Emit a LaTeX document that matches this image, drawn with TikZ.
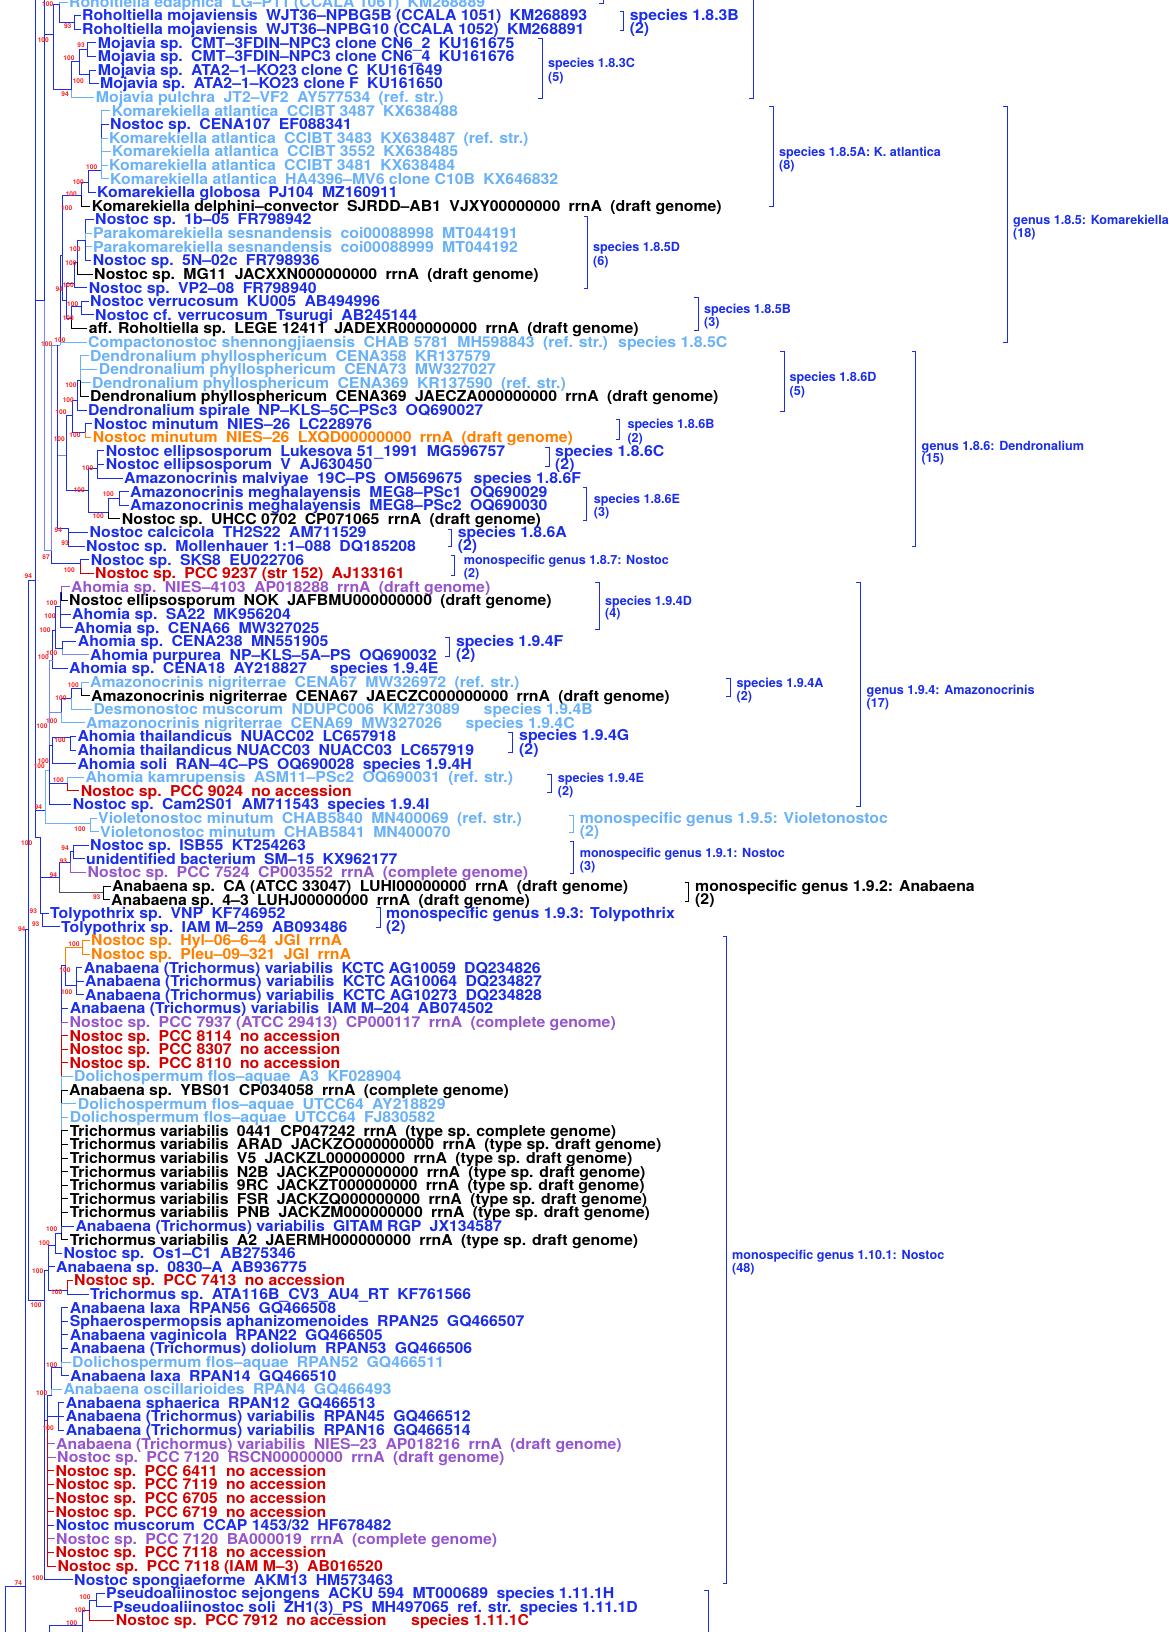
\documentclass[tikz,border=0pt]{standalone}
\usepackage{fontspec}
\setmainfont{TeX Gyre Heros}
\newfontfamily\mainfam{TeX Gyre Heros}[FakeStretch=1.055]
\definecolor{cb}{RGB}{25,45,235}
\definecolor{cmid}{RGB}{120,135,245}
\definecolor{cl}{RGB}{105,178,248}
\definecolor{ck}{RGB}{0,0,0}
\definecolor{cg}{RGB}{80,80,80}
\definecolor{co}{RGB}{255,128,0}
\definecolor{cr}{RGB}{212,0,0}
\definecolor{cp}{RGB}{150,85,205}
\definecolor{bsred}{RGB}{255,30,30}
\newcommand\mainfs{\mainfam\fontsize{15}{15}\selectfont\bfseries}
\newcommand\smallfs{\fontsize{12.6}{13}\selectfont\bfseries}
\newcommand\bsfs{\fontsize{6.6}{7}\selectfont\bfseries}
\newcommand\w{\hspace{0.556em}}
\newcommand\leaf[4]{\node[leaf,text=#3] (L#1) at ({#2-1.5},{2+(#1-1)*13.6}) {#4};}
\newcommand\extra[4]{\node[leaf,text=#3] (S#1) at ({#2-1.5},{2+(#1-1)*13.6}) {#4};}
\newcommand\clade[2]{\foreach \cN/\cK in {#2}{\draw[tr,\cK] (#1) -- (#1 |- \cN) -- (\cN);}}
\newcommand\brk[4][cb]{\draw[brk,#1] ({#2-4},#3) -- (#2,#3) -- (#2,#4) -- ({#2-4},#4);}
\begin{document}
\begin{tikzpicture}[x=1pt,y=-1pt,
  tr/.style={cb,line width=0.9pt,line join=miter},
  leaf/.style={anchor=west,inner xsep=1.5pt,inner ysep=0pt,text height=10.8pt,text depth=0pt,font=\mainfs},
  slab/.style={anchor=west,inner sep=0pt,text height=9.05pt,text depth=0pt,font=\smallfs,text=cb},
  blab/.style={anchor=west,inner sep=0pt,text height=10.8pt,text depth=0pt,font=\mainfs,text=cb},
  bs/.style={inner sep=0pt,text height=4.7pt,text depth=0pt,font=\bsfs,text=bsred},
  brk/.style={line width=0.9pt,cb}]
\useasboundingbox (0,0) rectangle (1169,1632);
\fill[white] (0,0) rectangle (1169,1632);
\clip (0,0) rectangle (1169,1632);

% ---------------- leaves ----------------
\leaf{1}{69}{cl}{Roholtiella edaphica\w LG–P11 (CCALA 1061)\w KM268889}
\leaf{2}{82}{cb}{Roholtiella mojaviensis\w WJT36–NPBG5B (CCALA 1051)\w KM268893}
\leaf{3}{82}{cb}{Roholtiella mojaviensis\w WJT36–NPBG10 (CCALA 1052)\w KM268891}
\leaf{4}{97.7}{cb}{Mojavia sp.\w CMT–3FDIN–NPC3 clone CN6\_2\w KU161675}
\leaf{5}{97.7}{cb}{Mojavia sp.\w CMT–3FDIN–NPC3 clone CN6\_4\w KU161676}
\leaf{6}{97.7}{cb}{Mojavia sp.\w ATA2–1–KO23 clone C\w KU161649}
\leaf{7}{100}{cb}{Mojavia sp.\w ATA2–1–KO23 clone F\w KU161650}
\leaf{8}{95.7}{cl}{Mojavia pulchra\w JT2–VF2\w AY577534\w (ref. str.)}
\leaf{9}{111.7}{cl}{Komarekiella atlantica\w CCIBT 3487\w KX638488}
\leaf{10}{110}{cb}{Nostoc sp.\w CENA107\w EF088341}
\leaf{11}{109}{cl}{Komarekiella atlantica\w CCIBT 3483\w KX638487\w (ref. str.)}
\leaf{12}{112}{cl}{Komarekiella atlantica\w CCIBT 3552\w KX638485}
\leaf{13}{109}{cl}{Komarekiella atlantica\w CCIBT 3481\w KX638484}
\leaf{14}{110}{cl}{Komarekiella atlantica\w HA4396–MV6 clone C10B\w KX646832}
\leaf{15}{97}{cb}{Komarekiella globosa\w PJ104\w MZ160911}
\leaf{16}{91.7}{ck}{Komarekiella delphini–convector\w SJRDD–AB1\w VJXY00000000\w rrnA\w (draft genome)}
\leaf{17}{95}{cb}{Nostoc sp.\w 1b–05\w FR798942}
\leaf{18}{93}{cl}{Parakomarekiella sesnandensis\w coi00088998\w MT044191}
\leaf{19}{93}{cl}{Parakomarekiella sesnandensis\w coi00088999\w MT044192}
\leaf{20}{92.7}{cb}{Nostoc sp.\w 5N–02c\w FR798936}
\leaf{21}{94}{ck}{Nostoc sp.\w MG11\w JACXXN000000000\w rrnA\w (draft genome)}
\leaf{22}{88.7}{cb}{Nostoc sp.\w VP2–08\w FR798940}
\leaf{23}{90}{cb}{Nostoc verrucosum\w KU005\w AB494996}
\leaf{24}{95}{cb}{Nostoc cf. verrucosum\w Tsurugi\w AB245144}
\leaf{25}{88.7}{ck}{aff. Roholtiella sp.\w LEGE 12411\w JADEXR000000000\w rrnA\w (draft genome)}
\leaf{26}{88}{cl}{Compactonostoc shennongjiaensis\w CHAB 5781\w MH598843\w (ref. str.)}
\extra{26}{618}{cl}{species 1.8.5C}
\leaf{27}{90}{cl}{Dendronalium phyllosphericum\w CENA358\w KR137579}
\leaf{28}{98.7}{cl}{Dendronalium phyllosphericum\w CENA73\w MW327027}
\leaf{29}{92}{cl}{Dendronalium phyllosphericum\w CENA369\w KR137590\w (ref. str.)}
\leaf{30}{90}{ck}{Dendronalium phyllosphericum\w CENA369\w JAECZA000000000\w rrnA\w (draft genome)}
\leaf{31}{88}{cb}{Dendronalium spirale\w NP–KLS–5C–PSc3\w OQ690027}
\leaf{32}{93.7}{cb}{Nostoc minutum\w NIES–26\w LC228976}
\leaf{33}{92.7}{co}{Nostoc minutum\w NIES–26\w LXQD00000000\w rrnA\w (draft genome)}
\leaf{34}{105.7}{cb}{Nostoc ellipsosporum\w Lukesova 51\_1991\w MG596757}
\leaf{35}{105.7}{cb}{Nostoc ellipsosporum\w V\w AJ630450}
\leaf{36}{124}{cb}{Amazonocrinis malviyae\w 19C–PS\w OM569675}
\extra{36}{473.5}{cb}{species 1.8.6F}
\leaf{37}{130}{cb}{Amazonocrinis meghalayensis\w MEG8–PSc1\w OQ690029}
\leaf{38}{130}{cb}{Amazonocrinis meghalayensis\w MEG8–PSc2\w OQ690030}
\leaf{39}{121.7}{ck}{Nostoc sp.\w UHCC 0702\w CP071065\w rrnA\w (draft genome)}
\leaf{40}{89.3}{cb}{Nostoc calcicola\w TH2S22\w AM711529}
\leaf{41}{86}{cb}{Nostoc sp.\w Mollenhauer 1:1–088\w DQ185208}
\leaf{42}{90.7}{cb}{Nostoc sp.\w SKS8\w EU022706}
\leaf{43}{95}{cr}{Nostoc sp.\w PCC 9237 (str 152)\w AJ133161}
\leaf{44}{71}{cp}{Ahomia sp.\w NIES–4103\w AP018288\w rrnA\w (draft genome)}
\leaf{45}{69}{ck}{Nostoc ellipsosporum\w NOK\w JAFBMU000000000\w (draft genome)}
\leaf{46}{72}{cb}{Ahomia sp.\w SA22\w MK956204}
\leaf{47}{74}{cb}{Ahomia sp.\w CENA66\w MW327025}
\leaf{48}{77.7}{cb}{Ahomia sp.\w CENA238\w MN551905}
\leaf{49}{90}{cb}{Ahomia purpurea\w NP–KLS–5A–PS\w OQ690032}
\leaf{50}{69}{cb}{Ahomia sp.\w CENA18\w AY218827}
\extra{50}{330}{cb}{species 1.9.4E}
\leaf{51}{90}{cl}{Amazonocrinis nigriterrae\w CENA67\w MW326972\w (ref. str.)}
\leaf{52}{91}{ck}{Amazonocrinis nigriterrae\w CENA67\w JAECZC000000000\w rrnA\w (draft genome)}
\leaf{53}{93.3}{cl}{Desmonostoc muscorum\w NDUPC006\w KM273089}
\extra{53}{483.5}{cl}{species 1.9.4B}
\leaf{54}{86}{cl}{Amazonocrinis nigriterrae\w CENA69\w MW327026}
\extra{54}{465.4}{cl}{species 1.9.4C}
\leaf{55}{77.3}{cb}{Ahomia thailandicus\w NUACC02\w LC657918}
\leaf{56}{77.3}{cb}{Ahomia thailandicus NUACC03\w NUACC03\w LC657919}
\leaf{57}{77.3}{cb}{Ahomia soli\w RAN–4C–PS\w OQ690028\w species 1.9.4H}
\leaf{58}{85.3}{cl}{Ahomia kamrupensis\w ASM11–PSc2\w OQ690031\w (ref. str.)}
\leaf{59}{80.7}{cr}{Nostoc sp.\w PCC 9024\w no accession}
\leaf{60}{72.7}{cb}{Nostoc sp.\w Cam2S01\w AM711543\w species 1.9.4I}
\leaf{61}{98}{cl}{Violetonostoc minutum\w CHAB5840\w MN400069\w (ref. str.)}
\leaf{62}{100}{cl}{Violetonostoc minutum\w CHAB5841\w MN400070}
\leaf{63}{90}{cb}{Nostoc sp.\w ISB55\w KT254263}
\leaf{64}{86}{cb}{unidentified bacterium\w SM–15\w KX962177}
\leaf{65}{87.3}{cp}{Nostoc sp.\w PCC 7524\w CP003552\w rrnA\w (complete genome)}
\leaf{66}{112}{ck}{Anabaena sp.\w CA (ATCC 33047)\w LUHI00000000\w rrnA\w (draft genome)}
\leaf{67}{111}{ck}{Anabaena sp.\w 4–3\w LUHJ00000000\w rrnA\w (draft genome)}
\leaf{68}{50}{cb}{Tolypothrix sp.\w VNP\w KF746952}
\leaf{69}{61}{cb}{Tolypothrix sp.\w IAM M–259\w AB093486}
\leaf{70}{91}{co}{Nostoc sp.\w Hyl–06–6–4\w JGI\w rrnA}
\leaf{71}{91}{co}{Nostoc sp.\w Pleu–09–321\w JGI\w rrnA}
\leaf{72}{83.7}{cb}{Anabaena (Trichormus) variabilis\w KCTC AG10059\w DQ234826}
\leaf{73}{85}{cb}{Anabaena (Trichormus) variabilis\w KCTC AG10064\w DQ234827}
\leaf{74}{85}{cb}{Anabaena (Trichormus) variabilis\w KCTC AG10273\w DQ234828}
\leaf{75}{69.7}{cb}{Anabaena (Trichormus) variabilis\w IAM M–204\w AB074502}
\leaf{76}{69.3}{cp}{Nostoc sp.\w PCC 7937 (ATCC 29413)\w CP000117\w rrnA\w (complete genome)}
\leaf{77}{69.3}{cr}{Nostoc sp.\w PCC 8114\w no accession}
\leaf{78}{69.3}{cr}{Nostoc sp.\w PCC 8307\w no accession}
\leaf{79}{69.3}{cr}{Nostoc sp.\w PCC 8110\w no accession}
\leaf{80}{74}{cl}{Dolichospermum flos–aquae\w A3\w KF028904}
\leaf{81}{69}{ck}{Anabaena sp.\w YBS01\w CP034058\w rrnA\w (complete genome)}
\leaf{82}{77.7}{cl}{Dolichospermum flos–aquae\w UTCC64\w AY218829}
\leaf{83}{69.7}{cl}{Dolichospermum flos–aquae\w UTCC64\w FJ830582}
\leaf{84}{69.7}{ck}{Trichormus variabilis\w 0441\w CP047242\w rrnA\w (type sp. complete genome)}
\leaf{85}{69.7}{ck}{Trichormus variabilis\w ARAD\w JACKZO000000000\w rrnA\w (type sp. draft genome)}
\leaf{86}{69.7}{ck}{Trichormus variabilis\w V5\w JACKZL000000000\w rrnA\w (type sp. draft genome)}
\leaf{87}{69.7}{ck}{Trichormus variabilis\w N2B\w JACKZP000000000\w rrnA\w (type sp. draft genome)}
\leaf{88}{69.7}{ck}{Trichormus variabilis\w 9RC\w JACKZT000000000\w rrnA\w (type sp. draft genome)}
\leaf{89}{69.7}{ck}{Trichormus variabilis\w FSR\w JACKZQ000000000\w rrnA\w (type sp. draft genome)}
\leaf{90}{69.7}{ck}{Trichormus variabilis\w PNB\w JACKZM000000000\w rrnA\w (type sp. draft genome)}
\leaf{91}{75.3}{cb}{Anabaena (Trichormus) variabilis\w GITAM RGP\w JX134587}
\leaf{92}{69.7}{ck}{Trichormus variabilis\w A2\w JAERMH000000000\w rrnA\w (type sp. draft genome)}
\leaf{93}{63.3}{cb}{Nostoc sp.\w Os1–C1\w AB275346}
\leaf{94}{56}{cb}{Anabaena sp.\w 0830–A\w AB936775}
\leaf{95}{74}{cr}{Nostoc sp.\w PCC 7413\w no accession}
\leaf{96}{90}{cb}{Trichormus sp.\w ATA116B\_CV3\_AU4\_RT\w KF761566}
\leaf{97}{69.7}{cb}{Anabaena laxa\w RPAN56\w GQ466508}
\leaf{98}{69.7}{cb}{Sphaerospermopsis aphanizomenoides\w RPAN25\w GQ466507}
\leaf{99}{69.7}{cb}{Anabaena vaginicola\w RPAN22\w GQ466505}
\leaf{100}{69.7}{cb}{Anabaena (Trichormus) doliolum\w RPAN53\w GQ466506}
\leaf{101}{72}{cl}{Dolichospermum flos–aquae\w RPAN52\w GQ466511}
\leaf{102}{70}{cb}{Anabaena laxa\w RPAN14\w GQ466510}
\leaf{103}{63.3}{cl}{Anabaena oscillarioides\w RPAN4\w GQ466493}
\leaf{104}{65.7}{cb}{Anabaena sphaerica\w RPAN12\w GQ466513}
\leaf{105}{65.7}{cb}{Anabaena (Trichormus) variabilis\w RPAN45\w GQ466512}
\leaf{106}{65.7}{cb}{Anabaena (Trichormus) variabilis\w RPAN16\w GQ466514}
\leaf{107}{56}{cp}{Anabaena (Trichormus) variabilis\w NIES–23\w AP018216\w rrnA\w (draft genome)}
\leaf{108}{57}{cp}{Nostoc sp.\w PCC 7120\w RSCN00000000\w rrnA\w (draft genome)}
\leaf{109}{55.3}{cr}{Nostoc sp.\w PCC 6411\w no accession}
\leaf{110}{55.3}{cr}{Nostoc sp.\w PCC 7119\w no accession}
\leaf{111}{55.3}{cr}{Nostoc sp.\w PCC 6705\w no accession}
\leaf{112}{55.3}{cr}{Nostoc sp.\w PCC 6719\w no accession}
\leaf{113}{55.7}{cb}{Nostoc muscorum\w CCAP 1453/32\w HF678482}
\leaf{114}{56}{cp}{Nostoc sp.\w PCC 7120\w BA000019\w rrnA\w (complete genome)}
\leaf{115}{55.3}{cr}{Nostoc sp.\w PCC 7118\w no accession}
\leaf{116}{57.3}{cr}{Nostoc sp.\w PCC 7118 (IAM M–3)\w AB016520}
\leaf{117}{74}{cb}{Nostoc spongiaeforme\w AKM13\w HM573463}
\leaf{118}{106}{cb}{Pseudoaliinostoc sejongens\w ACKU 594\w MT000689\w species 1.11.1H}
\leaf{119}{113}{cb}{Pseudoaliinostoc soli\w ZH1(3)\_PS\w MH497065\w ref. str.\w species 1.11.1D}
\leaf{120}{115.6}{cr}{Nostoc sp.\w PCC 7912\w no accession}
\extra{120}{411}{cr}{species 1.11.1C}

% ---------------- internal nodes ----------------
\coordinate (top1) at (44.5,-30); \coordinate (top2) at (35,-30);
\coordinate (bot1) at (25,1700); \coordinate (bot2) at (5,1700);
\coordinate (bot3) at (82,1700); \coordinate (bot4) at (49,1700);
% genus 1.8.3
\coordinate (a1) at (74,22.4);   \clade{a1}{L2/cb,L3/cb}
\coordinate (a2) at (59.3,4);    \clade{a2}{L1/cl,a1/cb}
\coordinate (a3) at (87.3,49.6); \clade{a3}{L4/cb,L5/cb}
\coordinate (a4) at (89.3,74);   \clade{a4}{L6/cb,L7/cb}
\coordinate (a5) at (79,61.7);   \clade{a5}{a3/cb,a4/cb}
\coordinate (a6) at (71.7,89.3); \clade{a6}{a5/cb,L8/cl}
\coordinate (a7) at (53.3,34);   \clade{a7}{a2/cb,a6/cb}
% genus 1.8.5
\coordinate (k1) at (101,170);   \clade{k1}{L9/cl,L10/cb,L11/cl,L12/cl,L13/cl,L14/cl}
\coordinate (k2) at (88.3,182);  \clade{k2}{k1/cb,L15/cb}
\coordinate (k3) at (81.7,195);  \clade{k3}{k2/cb,L16/ck}
\coordinate (k4) at (85,240);    \clade{k4}{L17/cb,L18/cl,L19/cl,L20/cb}
\coordinate (k5) at (77,262);    \clade{k5}{k4/cb,L21/ck}
\coordinate (k6) at (74,283);    \clade{k6}{k5/cb,L22/cb}
\coordinate (k7) at (81,306);    \clade{k7}{L23/cb,L24/cb}
\coordinate (k8) at (71,318);    \clade{k8}{k7/cb,L25/ck}
\coordinate (k9) at (66,300);    \clade{k9}{k6/cb,k8/cb}
\coordinate (k10) at (62,255);   \clade{k10}{k3/cb,k9/cb}
\coordinate (k11) at (60,345);   \clade{k11}{k10/cb,L26/cl}
% genus 1.8.6
\coordinate (d1) at (80.7,380);  \clade{d1}{L27/cl,L28/cl,L29/cl,L30/ck}
\coordinate (d2) at (77.7,400);  \clade{d2}{d1/cb,L31/cb}
\coordinate (d3) at (85,432);    \clade{d3}{L32/cb,L33/co}
\coordinate (d4) at (72,415);    \clade{d4}{d2/cb,d3/cb}
\coordinate (d5) at (97.3,468);  \clade{d5}{L34/cb,L35/cb,L36/cb}
\coordinate (d6) at (119,498);   \clade{d6}{L37/cb,L38/cb}
\coordinate (d7) at (108,512);   \clade{d7}{d6/cb,L39/ck}
\coordinate (d8) at (88.7,490);  \clade{d8}{d5/cb,d7/cb}
\coordinate (d9) at (66,455);    \clade{d9}{d4/cb,d8/cb}
\coordinate (d10) at (68,528);   \clade{d10}{L40/cb,L41/cb}
% genus 1.8.7 and above
\coordinate (e1) at (80,563);    \clade{e1}{L42/cb,L43/cr}
\coordinate (g1) at (57.3,345);  \clade{g1}{k11/cmid,d9/cmid,d10/cb}
\coordinate (e2) at (51.7,550);  \clade{e2}{g1/cmid,e1/cb}
\coordinate (Q1) at (44.5,300);  \clade{Q1}{top1/cb,a7/cb,e2/cmid}
% genus 1.9.4
\coordinate (h1) at (61.7,592);  \clade{h1}{L44/cp,L45/ck}
\coordinate (h2) at (60,606);    \clade{h2}{h1/cb,L46/cb,L47/cb}
\coordinate (h4) at (62.7,648);  \clade{h4}{L48/cb,L49/cmid}
\coordinate (h5) at (55,630);    \clade{h5}{h2/cb,h4/cb}
\coordinate (h6) at (52.7,660);  \clade{h6}{h5/cb,L50/cb}
\coordinate (h7) at (81.7,688);  \clade{h7}{L51/cl,L52/ck}
\coordinate (h8) at (71,698);    \clade{h8}{h7/cb,L53/cl}
\coordinate (h9) at (61.7,712);  \clade{h9}{h8/cb,L54/cl}
\coordinate (h10) at (70,737);   \clade{h10}{L55/cb,L56/cb}
\coordinate (h11) at (52.7,745); \clade{h11}{h10/cb,L57/cb}
\coordinate (h13) at (67.7,783); \clade{h13}{L58/cl,L59/cr}
\coordinate (H1) at (49.3,770);  \clade{H1}{h6/cmid,h9/cmid,h11/cb,h13/cb,L60/cb}
\coordinate (v1) at (90,823);    \clade{v1}{L61/cl,L62/cl}
\coordinate (H2) at (45,810);    \clade{H2}{H1/cl,v1/cl}
% genera 1.9.1 - 1.9.3
\coordinate (j1) at (73,851);    \clade{j1}{L63/cb,L64/cb}
\coordinate (j2) at (70,862);    \clade{j2}{j1/cb,L65/cp}
\coordinate (j3) at (103.3,892); \clade{j3}{L66/ck,L67/ck}
\coordinate (j4) at (59.3,877);  \clade{j4}{j2/cb,j3/cg}
\coordinate (jt) at (42.7,913.2); \clade{jt}{L69/cb}
\coordinate (j5) at (40,837);    \clade{j5}{j4/cb,L68/cb,jt/cb}
% the x = 35 node
\coordinate (S35) at (35,580);   \clade{S35}{top2/cb,Q1/cb,H2/cb,j5/cb}
% genus 1.10.1
\coordinate (m1) at (82,947);    \clade{m1}{L70/co,L71/co}
\coordinate (m3) at (76,985);    \clade{m3}{L72/cb,L73/cb,L74/cb}
\coordinate (m4) at (65,965);    \clade{m4}{m1/co,m3/cb}
\coordinate (m5) at (61,1233);   \clade{m5}{m4/cb,L75/cb,L76/cp,L77/cr,L78/cr,L79/cr,L80/cl,L81/ck,L82/cl,L83/cl,L84/ck,L85/ck,L86/ck,L87/ck,L88/ck,L89/ck,L90/ck,L91/cb,L92/ck}
\coordinate (m6) at (55,1245);   \clade{m6}{m5/cb,L93/cb}
\coordinate (m8) at (67,1290);   \clade{m8}{L95/cr,L96/cb}
\coordinate (m7) at (48,1270);   \clade{m7}{m6/cb,L94/cb,m8/cb}
\coordinate (m10) at (61,1367);  \clade{m10}{L97/cb,L98/cb,L99/cb,L100/cb,L101/cl,L102/cb}
\coordinate (m11) at (51.7,1395); \clade{m11}{m10/cb,L103/cl}
\coordinate (m12) at (58.3,1416); \clade{m12}{L104/cb,L105/cb,L106/cb}
\coordinate (m13) at (47.5,1420); \clade{m13}{m11/cb,m12/cb,L107/cp,L108/cp,L109/cr,L110/cr,L111/cr,L112/cr,L113/cb,L114/cp,L115/cr,L116/cr}
\coordinate (m14) at (44.5,1300); \clade{m14}{m7/cb,m13/cb,L117/cb}
% backbone
\coordinate (N1) at (28.3,929);  \clade{N1}{S35/cb,m14/cb}
\coordinate (N0) at (25,1586);   \clade{N0}{N1/cb,bot1/cb}
\coordinate (R0) at (5,1640);    \clade{R0}{N0/cb,bot2/cb}
% genus 1.11
\coordinate (p1) at (96,1600);   \clade{p1}{L118/cb,L119/cb}
\coordinate (p2) at (89,1610);   \clade{p2}{p1/cb,L120/cr}
\coordinate (p3) at (82,1625);   \clade{p3}{p2/cb,bot3/cb}
\coordinate (p4) at (49,1660);   \clade{p4}{p3/cb,bot4/cb}

% ---------------- bootstrap values ----------------
\foreach \x/\y/\t [count=\i] in {47.7/4/100,67.7/26/93,43.3/40/100,81/45/93,69/58.3/100,78.3/80.7/100,65/94.3/94,
 91.7/167.3/100,78.3/181.7/100,71.3/194.3/100,66.7/208.3/100,75/249.3/100,71/262.7/100,
 59.3/289.3/94,68.3/285.3/100,72.7/303.7/100,68.3/317.7/100,60/339.7/100,46.7/343.7/100,
 71/385.3/100,68.3/399.7/100,61/412/100,75/434.7/100,59.3/439.3/100,87.7/467.7/100,79.3/489.7/100,108.3/494.3/100,98.3/516.3/100,58.3/529.7/94,65/543/93,
 46/557/87,69.3/570/100,28.3/575.7/94,
 51.7/603/100,50/616/100,45/630/100,51.7/652.7/100,43.3/656.7/100,73.3/685/100,61/698/100,51.7/720.7/100,42/725.7/100,60/740/100,43.3/761.3/100,39.3/765.7/100,58.3/780/100,38.3/806.7/94,
 80/829.3/100,26.7/843.3/100,65/848.3/94,63.3/861/93,53.3/875.3/94,96.7/897/93,33.3/911/93,35.7/924.3/93,21.7/929.3/94,74/943.7/100,65/970.3/100,66.7/991.7/100,
 51.7/1229/100,44.3/1243/100,37.7/1270.7/100,56.7/1292.3/100,36/1305.3/100,
 51.7/1365/100,41.7/1392.7/100,48.3/1428.3/100,18.3/1583.3/74,37.7/1578.3/100,85/1596.7/100,80/1610/100,71.7/1623.3/100}
 {\node[bs] (bs\i) at (\x,\y) {\t};}

% ---------------- brackets and group labels ----------------
\brk{603}{-10}{3}
\brk{753}{-10}{98.3}
\brk{623.6}{11.7}{30}    \node[blab] (g1a) at (629.6,15) {species 1.8.3B};  \node[blab] (g1b) at (629.6,28.3) {(2)};
\brk{542}{38.3}{98.3}    \node[slab] (g2a) at (548,63.3) {species 1.8.3C};  \node[slab] (g2b) at (548,77.3) {(5)};
\brk{773.4}{106.7}{206.7} \node[slab] (g3a) at (779,152) {species 1.8.5A: K. atlantica}; \node[slab] (g3b) at (779,165) {(8)};
\brk{1007}{106.7}{342.7} \node[slab] (g4a) at (1013,220) {genus 1.8.5: Komarekiella}; \node[slab] (g4b) at (1013,233) {(18)};
\brk{587.6}{216}{288.3}  \node[slab] (g5a) at (593,247) {species 1.8.5D};  \node[slab] (g5b) at (593,261) {(6)};
\brk{698}{297.7}{330}    \node[slab] (g6a) at (704,309) {species 1.8.5B};  \node[slab] (g6b) at (704,322.3) {(3)};
\brk{784.3}{351.7}{411}  \node[slab] (g7a) at (789.5,377) {species 1.8.6D};  \node[slab] (g7b) at (789.5,390.5) {(5)};
\brk{915.5}{351.7}{546.7} \node[slab] (g8a) at (921.5,445.7) {genus 1.8.6: Dendronalium}; \node[slab] (g8b) at (921.5,458.3) {(15)};
\brk{619.8}{419.3}{439}  \node[slab] (g9a) at (627.3,424) {species 1.8.6B};  \node[slab] (g9b) at (627.3,437.7) {(2)};
\brk{549}{447.3}{466}    \node[blab] (g10a) at (555,451) {species 1.8.6C}; \node[blab] (g10b) at (555,464) {(2)};
\brk{586.8}{487.3}{520}  \node[slab] (g11a) at (593.6,499) {species 1.8.6E}; \node[slab] (g11b) at (593.6,512.3) {(3)};
\brk{451.7}{529}{546.7}  \node[blab] (g12a) at (457.6,532.3) {species 1.8.6A}; \node[blab] (g12b) at (457.6,545) {(2)};
\brk{454.5}{555}{575}    \node[slab] (g13a) at (463.6,560) {monospecific genus 1.8.7: Nostoc}; \node[slab] (g13b) at (463.6,573) {(2)};
\brk{599}{582.7}{629}    \node[slab] (g14a) at (605,600.7) {species 1.9.4D}; \node[slab] (g14b) at (605,613.3) {(4)};
\brk{860.4}{582.7}{806}  \node[slab] (g15a) at (866.5,690) {genus 1.9.4: Amazonocrinis}; \node[slab] (g15b) at (866.5,702.7) {(17)};
\brk{449}{637.7}{656}    \node[blab] (g16a) at (455.8,641) {species 1.9.4F}; \node[blab] (g16b) at (455.8,654) {(2)};
\brk{730}{678.3}{696.7}  \node[slab] (g17a) at (736.5,682.7) {species 1.9.4A}; \node[slab] (g17b) at (736.5,696) {(2)};
\brk{512.3}{732.7}{752}  \node[blab] (g18a) at (519,735) {species 1.9.4G}; \node[blab] (g18b) at (519,749.3) {(2)};
\brk{551}{774}{792.3}    \node[slab] (g19a) at (557.7,777.7) {species 1.9.4E}; \node[slab] (g19b) at (557.7,790.7) {(2)};
\brk[cl]{573}{815}{832.7} \node[blab,text=cl] (g20a) at (579.6,817.7) {monospecific genus 1.9.5: Violetonostoc}; \node[blab,text=cl] (g20b) at (579.6,830.7) {(2)};
\brk{573.8}{841.7}{873.3} \node[slab] (g21a) at (579.6,852.7) {monospecific genus 1.9.1: Nostoc}; \node[slab] (g21b) at (579.6,866) {(3)};
\brk[ck]{688.5}{882.7}{901.7} \node[blab,text=ck] (g22a) at (695,886) {monospecific genus 1.9.2: Anabaena}; \node[blab,text=ck] (g22b) at (695,899.3) {(2)};
\brk{380}{907}{927}      \node[blab] (g23a) at (386,913) {monospecific genus 1.9.3: Tolypothrix}; \node[blab] (g23b) at (386,926) {(2)};
\brk{726.6}{936.4}{1583} \node[slab] (g24a) at (732,1255) {monospecific genus 1.10.1: Nostoc}; \node[slab] (g24b) at (732,1268) {(48)};
\brk{708.4}{1590.6}{1700}
\end{tikzpicture}
\end{document}
